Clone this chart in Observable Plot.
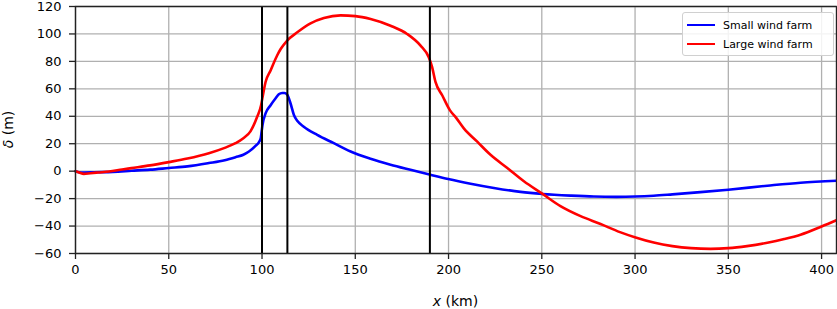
<!DOCTYPE html>
<html>
<head>
<meta charset="utf-8">
<script src="https://cdn.jsdelivr.net/npm/d3@7"></script>
<script src="https://cdn.jsdelivr.net/npm/@observablehq/plot@0.6"></script>
<style>
  html, body { margin: 0; padding: 0; background: #fff; }
  #wrap { position: relative; width: 837px; height: 309px; font-family: "DejaVu Sans", sans-serif; }
  #legend { position: absolute; left: 682px; top: 12px; width: 152px; height: 44px; box-sizing: border-box;
    border: 1px solid #d0d0d0; border-radius: 3px; background: rgba(255,255,255,0.85); font-size: 11px; color: #000; }
  .item { position: absolute; left: 4px; height: 14px; display: flex; align-items: center; }
  .sw { width: 28px; height: 0; border-top: 2.5px solid; margin-right: 8px; }
</style>
</head>
<body>
<div id="wrap"></div>
<script>
// Small wind farm
const xSmall = [0, 3, 5, 10, 20, 30, 40, 50, 60, 71.5, 80, 85.8, 90, 93, 96.5, 98.3, 99.3, 99.8, 100.3, 101.9, 104.6, 107.2, 109, 110.8, 112, 113.5, 115.3, 117.1, 119, 122.4, 129.6, 138.5, 147.5, 158.2, 168.9, 179.6, 190.3, 199.8, 211.8, 224.3, 238.6, 250.4, 265.4, 277.9, 290, 300, 310, 320, 335, 350, 370.9, 388.7, 408];
const ySmall = [0, -1, -1, -0.8, -0.5, 0.3, 1.1, 2.3, 3.5, 5.9, 8, 10.2, 12, 14.3, 18.4, 21, 24, 29, 34, 42.1, 48.1, 53, 56, 57, 57, 55.8, 49.3, 40.9, 36.5, 32.4, 26.4, 20.4, 14.3, 9, 4.7, 1, -2.6, -5.7, -9.1, -12.2, -15.1, -16.6, -17.8, -18.5, -18.7, -18.5, -17.9, -16.9, -15.3, -13.5, -10.6, -8.4, -7];
// Large wind farm
const xLarge = [0, 2, 4.5, 8, 12, 18, 25, 30, 40, 50, 60, 71.5, 80, 85.8, 90, 93.8, 97.4, 99.5, 100.3, 101.9, 104.6, 108.1, 110, 113.5, 118.9, 126, 133.2, 142.1, 150.1, 158.2, 168.9, 177.8, 185, 189.4, 191.2, 193, 196.6, 200.7, 204, 208.2, 215.4, 222.5, 231.5, 240.4, 250.4, 260, 270.8, 281.5, 291.9, 300.3, 310, 320, 330, 340.5, 350, 360, 370.9, 380, 388.7, 400, 408];
const yLarge = [0, -1, -2, -1.5, -1, -0.3, 1.2, 2.2, 4.2, 6.6, 9.2, 13.1, 17, 20.4, 24, 29, 39.6, 48, 54, 65, 73.4, 84.3, 89, 95.2, 101.2, 107.7, 111.6, 113.5, 113, 110.9, 106, 100, 91.5, 83, 75.8, 65, 55.3, 44.5, 39, 31.2, 21.5, 11.9, 2.3, -7.4, -16.6, -25.5, -32.8, -38.5, -44.4, -48.3, -52, -54.6, -56.1, -56.6, -56.1, -54.6, -52.2, -49.5, -46.3, -40.3, -35.7];
// Vertical markers
const vlines = [100, 113.6, 190];
const xTicks = [0, 50, 100, 150, 200, 250, 300, 350, 400];
const yTicks = [-60, -40, -20, 0, 20, 40, 60, 80, 100, 120];

const small = xSmall.map((x, i) => ({x, y: ySmall[i]}));
const large = xLarge.map((x, i) => ({x, y: yLarge[i]}));

const chart = Plot.plot({
  width: 837,
  height: 309,
  marginLeft: 75,
  marginRight: 1,
  marginTop: 6,
  marginBottom: 56,
  style: {fontFamily: "DejaVu Sans, sans-serif", fontSize: "13px", color: "#000", background: "#fff"},
  x: {domain: [0, 408], ticks: xTicks, label: null, tickSize: 6, tickPadding: 5},
  y: {domain: [-60, 120], ticks: yTicks, label: null, tickSize: 6, tickPadding: 8},
  marks: [
    Plot.gridX(xTicks, {stroke: "#b0b0b0", strokeOpacity: 1, strokeWidth: 1.3}),
    Plot.gridY(yTicks, {stroke: "#b0b0b0", strokeOpacity: 1, strokeWidth: 1.3}),
    Plot.line(small, {x: "x", y: "y", stroke: "#0000ff", strokeWidth: 2.6, curve: "monotone-x"}),
    Plot.line(large, {x: "x", y: "y", stroke: "#ff0000", strokeWidth: 2.6, curve: "monotone-x"}),
    Plot.ruleX(vlines, {stroke: "#000", strokeWidth: 2}),
    Plot.axisX(xTicks, {tickSize: 6, tickPadding: 5, stroke: "#222", strokeWidth: 1.3, fontSize: 13, label: null}),
    Plot.axisY(yTicks, {tickSize: 6, tickPadding: 8, stroke: "#222", strokeWidth: 1.3, fontSize: 13, label: null}),
    Plot.frame({stroke: "#222", strokeWidth: 1.4})
  ]
});

const svg = d3.select(chart);
// axis titles
svg.append("text")
  .attr("x", 455.5).attr("y", 306)
  .attr("text-anchor", "middle")
  .attr("font-family", "DejaVu Sans, sans-serif").attr("font-size", 14).attr("fill", "#000")
  .html('<tspan font-style="italic">x</tspan> (km)');
svg.append("text")
  .attr("transform", "translate(13,129.5) rotate(-90)")
  .attr("text-anchor", "middle")
  .attr("font-family", "DejaVu Sans, sans-serif").attr("font-size", 14).attr("fill", "#000")
  .html('<tspan font-style="italic">δ</tspan> (m)');

const wrap = document.getElementById("wrap");
wrap.appendChild(chart);

const legend = document.createElement("div");
legend.id = "legend";
const series = [["Small wind farm", "#0000ff"], ["Large wind farm", "#ff0000"]];
series.forEach(([name, color], i) => {
  const it = document.createElement("div");
  it.className = "item";
  it.style.top = (5 + i * 19) + "px";
  it.innerHTML = `<span class="sw" style="border-color:${color}"></span><span>${name}</span>`;
  legend.appendChild(it);
});
wrap.appendChild(legend);
</script>
</body>
</html>
